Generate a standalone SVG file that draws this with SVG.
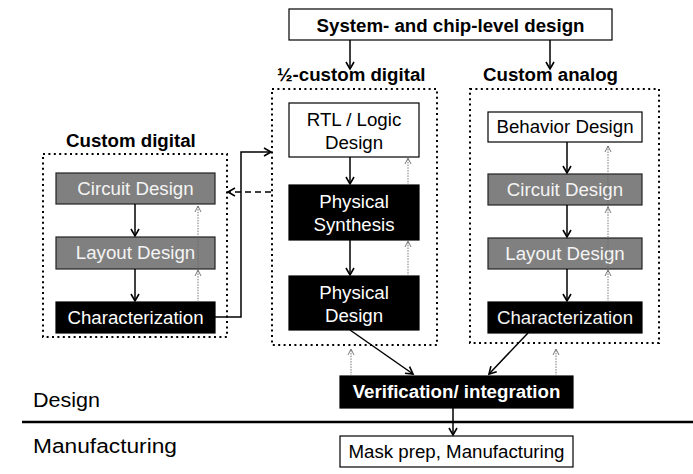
<svg xmlns="http://www.w3.org/2000/svg" width="693" height="474" viewBox="0 0 693 474">
<defs>
<marker id="ah" markerUnits="userSpaceOnUse" markerWidth="12" markerHeight="12" viewBox="-9 -6 11 12" refX="0" refY="0" orient="auto">
<path d="M-7,-4 L0,0 L-7,4" fill="none" stroke="#000" stroke-width="1.6"/>
</marker>
<marker id="fh" markerUnits="userSpaceOnUse" markerWidth="10" markerHeight="10" viewBox="-7 -5 9 10" refX="0" refY="0" orient="auto">
<path d="M-6,-3 L0,0 L-6,3" fill="none" stroke="#555" stroke-width="0.8"/>
</marker>
</defs>
<style>
text{font-family:"Liberation Sans",Arial,sans-serif;font-size:18.7px;text-anchor:middle}
.b{font-weight:bold}
.l{text-anchor:start}
.w{fill:#fff}
.gw{fill:#f4f4f4}
.wb{fill:#fff;stroke:#000;stroke-width:1.2}
.gb{fill:#808080;stroke:#222;stroke-width:1.2}
.kb{fill:#000;stroke:#000;stroke-width:1.2}
.dot{fill:none;stroke:#000;stroke-width:2;stroke-dasharray:2 3.4}
.c{fill:none;stroke:#000;stroke-width:1.5;marker-end:url(#ah)}
.d{fill:none;stroke:#000;stroke-width:1.5;stroke-dasharray:6 4;marker-end:url(#ah)}
.f{fill:none;stroke:#666;stroke-width:0.9;stroke-dasharray:1.5 1.2;marker-end:url(#fh)}
</style>
<rect width="693" height="474" fill="#fff"/>

<g id="top">
<rect class="wb" x="289" y="9" width="323" height="31"/>
<text class="b" x="450.5" y="32">System- and chip-level design</text>
</g>

<g id="group-labels">
<text class="b l" x="277" y="81">½-custom digital</text>
<text class="b l" x="483" y="81">Custom analog</text>
<text class="b l" x="66" y="147">Custom digital</text>
</g>

<g id="half-custom-box"><rect class="dot" x="272" y="89" width="165" height="256"/></g>
<g id="custom-digital-box"><rect class="dot" x="43" y="154" width="184" height="183"/></g>
<g id="custom-analog-box"><rect class="dot" x="470" y="89" width="189" height="254"/></g>

<g id="rtl">
<rect class="wb" x="289" y="103" width="130" height="54"/>
<text x="354" y="126">RTL / Logic</text>
<text x="354" y="149">Design</text>
</g>
<g id="phys-synth">
<rect class="kb" x="289" y="185" width="130" height="55"/>
<text class="w" x="354" y="208">Physical</text>
<text class="w" x="354" y="231">Synthesis</text>
</g>
<g id="phys-design">
<rect class="kb" x="289" y="276" width="130" height="54"/>
<text class="w" x="354" y="299">Physical</text>
<text class="w" x="354" y="322">Design</text>
</g>

<g id="cd-circuit">
<rect class="gb" x="56" y="173" width="159" height="31"/>
<text class="gw" x="135.5" y="195">Circuit Design</text>
</g>
<g id="cd-layout">
<rect class="gb" x="56" y="237" width="159" height="32"/>
<text class="gw" x="135.5" y="259">Layout Design</text>
</g>
<g id="cd-char">
<rect class="kb" x="56" y="302" width="159" height="31"/>
<text class="w" x="135.5" y="324">Characterization</text>
</g>

<g id="ca-behavior">
<rect class="wb" x="488" y="112" width="154" height="30"/>
<text x="565" y="133">Behavior Design</text>
</g>
<g id="ca-circuit">
<rect class="gb" x="488" y="174" width="154" height="31"/>
<text class="gw" x="565" y="196">Circuit Design</text>
</g>
<g id="ca-layout">
<rect class="gb" x="488" y="238" width="154" height="31"/>
<text class="gw" x="565" y="260">Layout Design</text>
</g>
<g id="ca-char">
<rect class="kb" x="488" y="302" width="154" height="31"/>
<text class="gw" x="565" y="324">Characterization</text>
</g>

<g id="verif">
<rect class="kb" x="340" y="376" width="233" height="32"/>
<text class="b w" x="456.5" y="398">Verification/ integration</text>
</g>
<g id="mask">
<rect class="wb" x="340" y="436" width="233" height="31"/>
<text x="456.5" y="458">Mask prep, Manufacturing</text>
</g>

<g id="phase-labels">
<text class="l" x="33" y="407" textLength="67" lengthAdjust="spacingAndGlyphs" style="font-size:20px">Design</text>
<text class="l" x="33" y="453" textLength="144" lengthAdjust="spacingAndGlyphs" style="font-size:20px">Manufacturing</text>
<line x1="22" y1="422" x2="693" y2="422" stroke="#000" stroke-width="2.6"/>
</g>

<g id="connectors">
<line class="c" x1="350" y1="40" x2="350" y2="69"/>
<line class="c" x1="550" y1="40" x2="550" y2="69"/>
<line class="c" x1="350" y1="157" x2="350" y2="184"/>
<line class="c" x1="350" y1="240" x2="350" y2="275"/>
<line class="f" x1="408" y1="276" x2="408" y2="241"/>
<line class="f" x1="408" y1="185" x2="408" y2="158"/>
<line class="c" x1="135" y1="204" x2="135" y2="236"/>
<line class="c" x1="135" y1="269" x2="135" y2="301"/>
<line class="f" x1="198" y1="302" x2="198" y2="270"/>
<line class="f" x1="198" y1="270" x2="198" y2="206"/>
<line class="c" x1="567" y1="142" x2="567" y2="173"/>
<line class="c" x1="567" y1="205" x2="567" y2="237"/>
<line class="c" x1="567" y1="269" x2="567" y2="301"/>
<line class="f" x1="608" y1="302" x2="608" y2="270"/>
<line class="f" x1="608" y1="270" x2="608" y2="207"/>
<line class="f" x1="608" y1="207" x2="608" y2="146"/>
<polyline class="c" points="215,317 241,317 241,152 271,152"/>
<line class="d" x1="271" y1="192" x2="228" y2="192"/>
<line class="c" x1="350" y1="330" x2="413" y2="374"/>
<line class="c" x1="528" y1="333" x2="489" y2="374"/>
<line class="f" x1="351" y1="376" x2="351" y2="349"/>
<line class="f" x1="556" y1="376" x2="556" y2="349"/>
<line class="c" x1="453" y1="408" x2="453" y2="435"/>
</g>
</svg>
